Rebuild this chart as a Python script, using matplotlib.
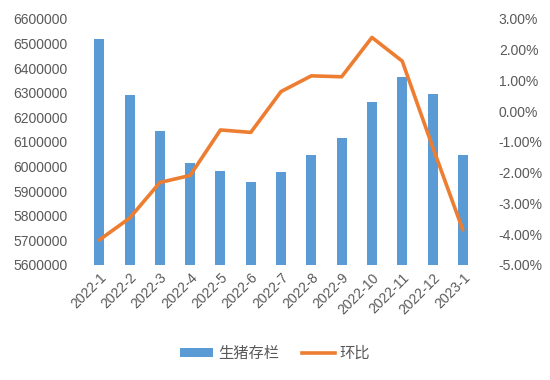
import matplotlib.pyplot as plt
from matplotlib.patches import Patch
from matplotlib.lines import Line2D
import numpy as np

plt.rcParams['font.family'] = ['Liberation Sans', 'Noto Sans CJK SC', 'DejaVu Sans']

months = ['2022-1', '2022-2', '2022-3', '2022-4', '2022-5', '2022-6', '2022-7',
          '2022-8', '2022-9', '2022-10', '2022-11', '2022-12', '2023-1']
stock = [6519000, 6291000, 6145000, 6015000, 5981000, 5937000, 5978000,
         6047000, 6118000, 6263000, 6364000, 6294000, 6047000]
mom = [-4.19, -3.48, -2.32, -2.09, -0.61, -0.69, 0.64,
       1.15, 1.12, 2.40, 1.63, -1.15, -3.86]

bar_color = '#5B9BD5'
line_color = '#ED7D31'
text_color = '#595959'

fig = plt.figure(figsize=(5.5, 3.8), dpi=100)
ax = fig.add_axes([0.153, 0.303, 0.716, 0.647])
ax2 = ax.twinx()

x = np.arange(len(months))
ax.bar(x, stock, width=0.33, color=bar_color, zorder=1)
ax2.plot(x, mom, color=line_color, linewidth=2.6, solid_capstyle='round', zorder=3)

ax.set_xlim(-0.5, len(months) - 0.5)
ax.set_ylim(5600000, 6600000)
ax.set_yticks(np.arange(5600000, 6600001, 100000))
ax.set_yticklabels([str(v) for v in range(5600000, 6600001, 100000)])
ax2.set_ylim(-5, 3)
ax2.set_yticks(np.arange(-5, 3.01, 1))
ax2.set_yticklabels([f'{v:.2f}%' for v in np.arange(-5, 3.01, 1)])

ax.set_xticks(x)
ax.set_xticklabels(months, rotation=45, ha='right', rotation_mode='anchor')

for a in (ax, ax2):
    for s in a.spines.values():
        s.set_visible(False)
    a.tick_params(length=0, colors=text_color, labelsize=10)
ax.tick_params(axis='y', pad=12)
ax2.tick_params(axis='y', pad=15)
ax.tick_params(axis='x', pad=4)

handles = [Patch(facecolor=bar_color, edgecolor='none'),
           Line2D([0], [0], color=line_color, linewidth=2.6)]
leg = fig.legend(handles, ['生猪存栏', '环比'], loc='center', bbox_to_anchor=(0.5, 0.07),
                 ncol=2, frameon=False, fontsize=11, handlelength=2.2, handleheight=0.5,
                 columnspacing=1.5, handletextpad=0.3)
for t in leg.get_texts():
    t.set_color(text_color)

fig.savefig('out.png', dpi=100)
